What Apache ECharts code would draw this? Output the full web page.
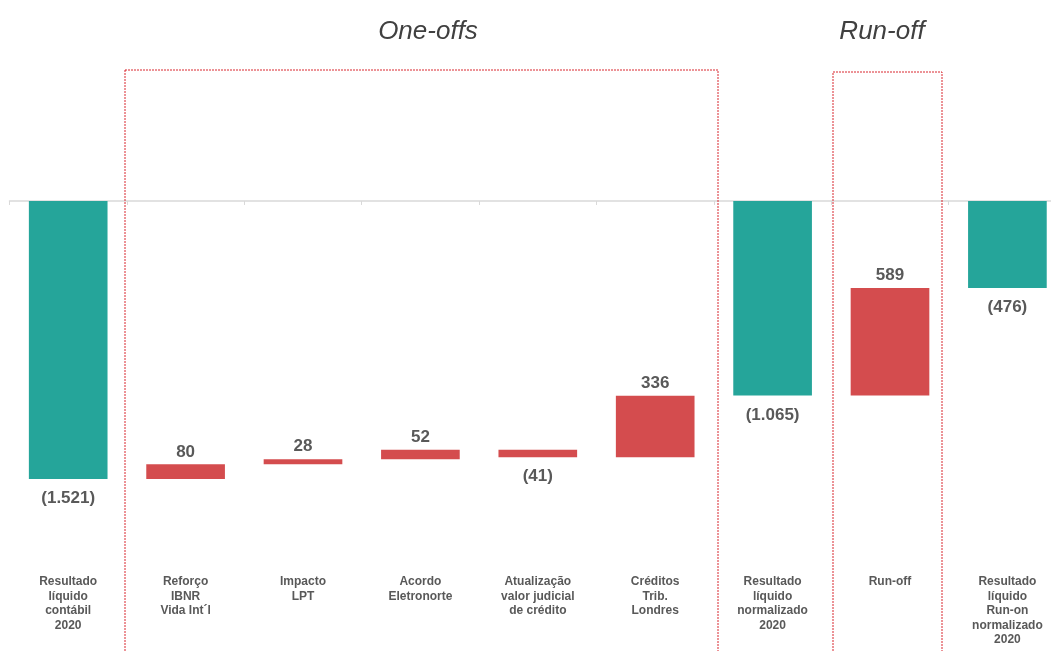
<!DOCTYPE html>
<html>
<head>
<meta charset="utf-8">
<script src="https://cdn.jsdelivr.net/npm/echarts@6/dist/echarts.min.js"></script>
<style>
html,body{margin:0;padding:0;background:#fff;}
#chart{width:1051px;height:651px;}
</style>
</head>
<body>
<div id="chart"></div>
<script>
const categories = [
  'Resultado\nlíquido\ncontábil\n2020',
  'Reforço\nIBNR\nVida Int´l',
  'Impacto\nLPT',
  'Acordo\nEletronorte',
  'Atualização\nvalor judicial\nde crédito',
  'Créditos\nTrib.\nLondres',
  'Resultado\nlíquido\nnormalizado\n2020',
  'Run-off',
  'Resultado\nlíquido\nRun-on\nnormalizado\n2020'
];
const values = [-1521, 80, 28, 52, -41, 336, -1065, 589, -476];
const isTotal = [true, false, false, false, false, false, true, false, true];
const groupTitles = ['One-offs', 'Run-off'];

const TEAL = '#25a59a';
const RED = '#d44c4e';

// build waterfall base/visible parts from the values
const baseData = [];
const barData = [];
let running = 0;
values.forEach((v, i) => {
  if (isTotal[i]) {
    baseData.push(0);
    barData.push({value: v, itemStyle: {color: TEAL}});
    running = v;
  } else {
    const next = running + v;
    const hi = Math.max(running, next);
    const lo = Math.min(running, next);
    baseData.push(hi);
    barData.push({value: lo - hi, itemStyle: {color: RED}});
    running = next;
  }
});

function fmt(v) {
  const s = String(Math.abs(v)).replace(/\B(?=(\d{3})+(?!\d))/g, '.');
  return v < 0 ? '(' + s + ')' : s;
}

barData.forEach((d, i) => {
  const up = !isTotal[i] && values[i] > 0;
  d.label = {position: up ? 'top' : 'bottom', distance: up ? 4 : 11};
});

const chart = echarts.init(document.getElementById('chart'), null, {renderer: 'canvas'});
const FONT = '"Liberation Sans", Arial, sans-serif';

chart.setOption({
  animation: false,
  title: [
    {text: groupTitles[0], left: 423, top: 14, textAlign: 'center',
     textStyle: {fontFamily: FONT, fontSize: 26, fontStyle: 'italic', fontWeight: 'normal', color: '#404040'}},
    {text: groupTitles[1], left: 877, top: 14, textAlign: 'center',
     textStyle: {fontFamily: FONT, fontSize: 26, fontStyle: 'italic', fontWeight: 'normal', color: '#404040'}}
  ],
  grid: {left: 9.5, width: 1056.6, top: 18.2, height: 548.3, containLabel: false, outerBoundsMode: 'none'},
  xAxis: [
    {
      type: 'category', data: categories, position: 'top',
      axisLine: {onZero: true, lineStyle: {color: '#d9d9d9', width: 1.5}},
      axisTick: {show: true, inside: true, length: 4, lineStyle: {color: '#d9d9d9'}},
      axisLabel: {show: false},
      splitLine: {show: false}
    },
    {
      type: 'category', data: categories, position: 'bottom',
      axisLine: {show: false, onZero: false},
      axisTick: {show: false},
      axisLabel: {interval: 0, margin: 8, fontFamily: FONT, fontSize: 12, fontWeight: 'bold',
                  color: '#595959', lineHeight: 14.5, verticalAlign: 'top'},
      splitLine: {show: false}
    }
  ],
  yAxis: {type: 'value', min: -2000, max: 1000, show: false, splitLine: {show: false}},
  graphic: [
    {type: 'rect', shape: {x: 125, y: 70, width: 593, height: 620}, silent: true, z: 10,
     style: {fill: 'none', stroke: '#d9262e', lineWidth: 1, lineDash: [2, 1]}},
    {type: 'rect', shape: {x: 833, y: 72, width: 109, height: 620}, silent: true, z: 10,
     style: {fill: 'none', stroke: '#d9262e', lineWidth: 1, lineDash: [2, 1]}}
  ],
  series: [
    {
      type: 'bar', stack: 'wf', data: baseData, barWidth: '67%', silent: true,
      itemStyle: {color: 'transparent'}, emphasis: {disabled: true}
    },
    {
      type: 'bar', stack: 'wf', data: barData, barWidth: '67%',
      label: {show: true, fontFamily: FONT, fontSize: 17, fontWeight: 'bold', color: '#595959',
              formatter: p => fmt(values[p.dataIndex])}
    }
  ]
});
</script>
</body>
</html>
